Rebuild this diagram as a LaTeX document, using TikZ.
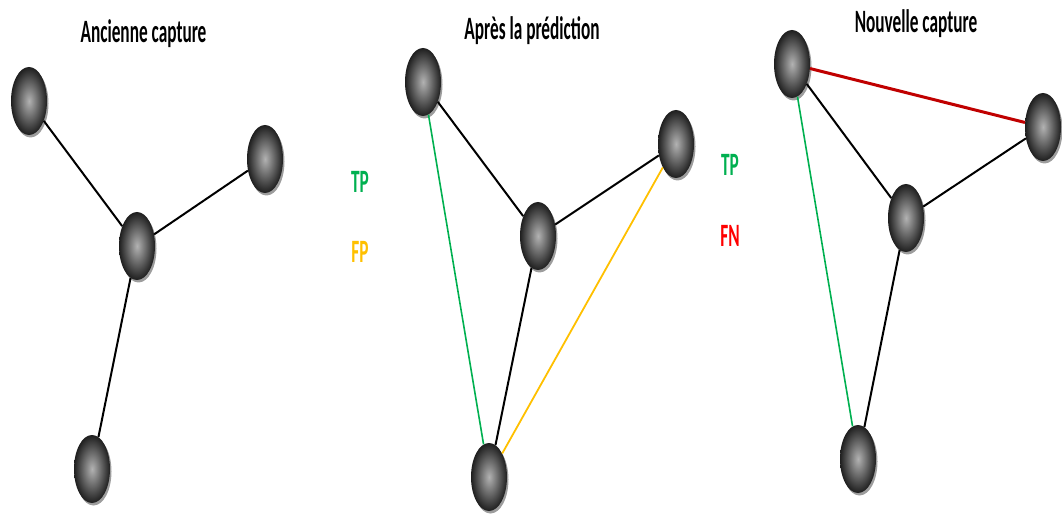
\documentclass[tikz,border=0pt]{standalone}
\usepackage{fontspec}
\setmainfont{Carlito}
\newfontfamily\narrowfont[FakeStretch=0.53]{Carlito}
\usetikzlibrary{shapes.geometric,shadows}
\definecolor{tpgreen}{HTML}{00B050}
\definecolor{fporange}{HTML}{FFC000}
\definecolor{fnred}{HTML}{FF0000}
\definecolor{edgered}{HTML}{C00000}
\tikzset{
  ball/.style={ellipse, minimum width=36bp, minimum height=68bp, inner sep=0pt,
    shading=radial, inner color=black!30, outer color=black!88,
    drop shadow={shadow xshift=1.5bp, shadow yshift=-2.5bp, opacity=0.55, fill=black!70}},
  title/.style={font=\narrowfont\bfseries\fontsize{32.6bp}{36bp}\selectfont, anchor=base, inner sep=0pt},
  lab/.style={font=\narrowfont\bfseries\fontsize{32.6bp}{36bp}\selectfont, anchor=base, inner sep=0pt},
  blackedge/.style={black, line width=2bp},
  greenedge/.style={tpgreen, line width=1.6bp},
  orangeedge/.style={fporange, line width=1.8bp},
  rededge/.style={edgered, line width=3bp}
}
\begin{document}
\begin{tikzpicture}[x=1bp, y=-1bp]
\useasboundingbox (0,0) rectangle (1062,515);
% titles
\node[title] (t1) at (143.5,43) {Ancienne capture};
\node[title] (t2) at (532,40) {Après la prédiction};
\node[title] (t3) at (916,33) {Nouvelle capture};
% labels
\node[lab, text=tpgreen] (l1) at (360,193) {TP};
\node[lab, text=fporange] (l2) at (360,263) {FP};
\node[lab, text=tpgreen] (l3) at (730,176) {TP};
\node[lab, text=fnred] (l4) at (730,247) {FN};
% panel 1
\node[ball] (a1) at (29,101) {};
\node[ball] (b1) at (265,159) {};
\node[ball] (c1) at (137,246) {};
\node[ball] (d1) at (92,469) {};
% panel 2
\node[ball] (a2) at (423,82) {};
\node[ball] (b2) at (676,144) {};
\node[ball] (c2) at (538,236) {};
\node[ball] (d2) at (489,477) {};
% panel 3
\node[ball] (a3) at (792,64) {};
\node[ball] (b3) at (1043,127) {};
\node[ball] (c3) at (906,218) {};
\node[ball] (d3) at (858,459) {};
% edges panel 1
\draw[blackedge] (a1) -- (c1);
\draw[blackedge] (b1) -- (c1);
\draw[blackedge] (c1) -- (d1);
% edges panel 2
\draw[blackedge] (a2) -- (c2);
\draw[blackedge] (b2) -- (c2);
\draw[blackedge] (c2) -- (d2);
\draw[greenedge] (a2) -- (d2);
\draw[orangeedge] (b2) -- (d2);
% edges panel 3
\draw[blackedge] (a3) -- (c3);
\draw[blackedge] (b3) -- (c3);
\draw[blackedge] (c3) -- (d3);
\draw[greenedge] (a3) -- (d3);
\draw[rededge] (a3) -- (b3);
\end{tikzpicture}
\end{document}
